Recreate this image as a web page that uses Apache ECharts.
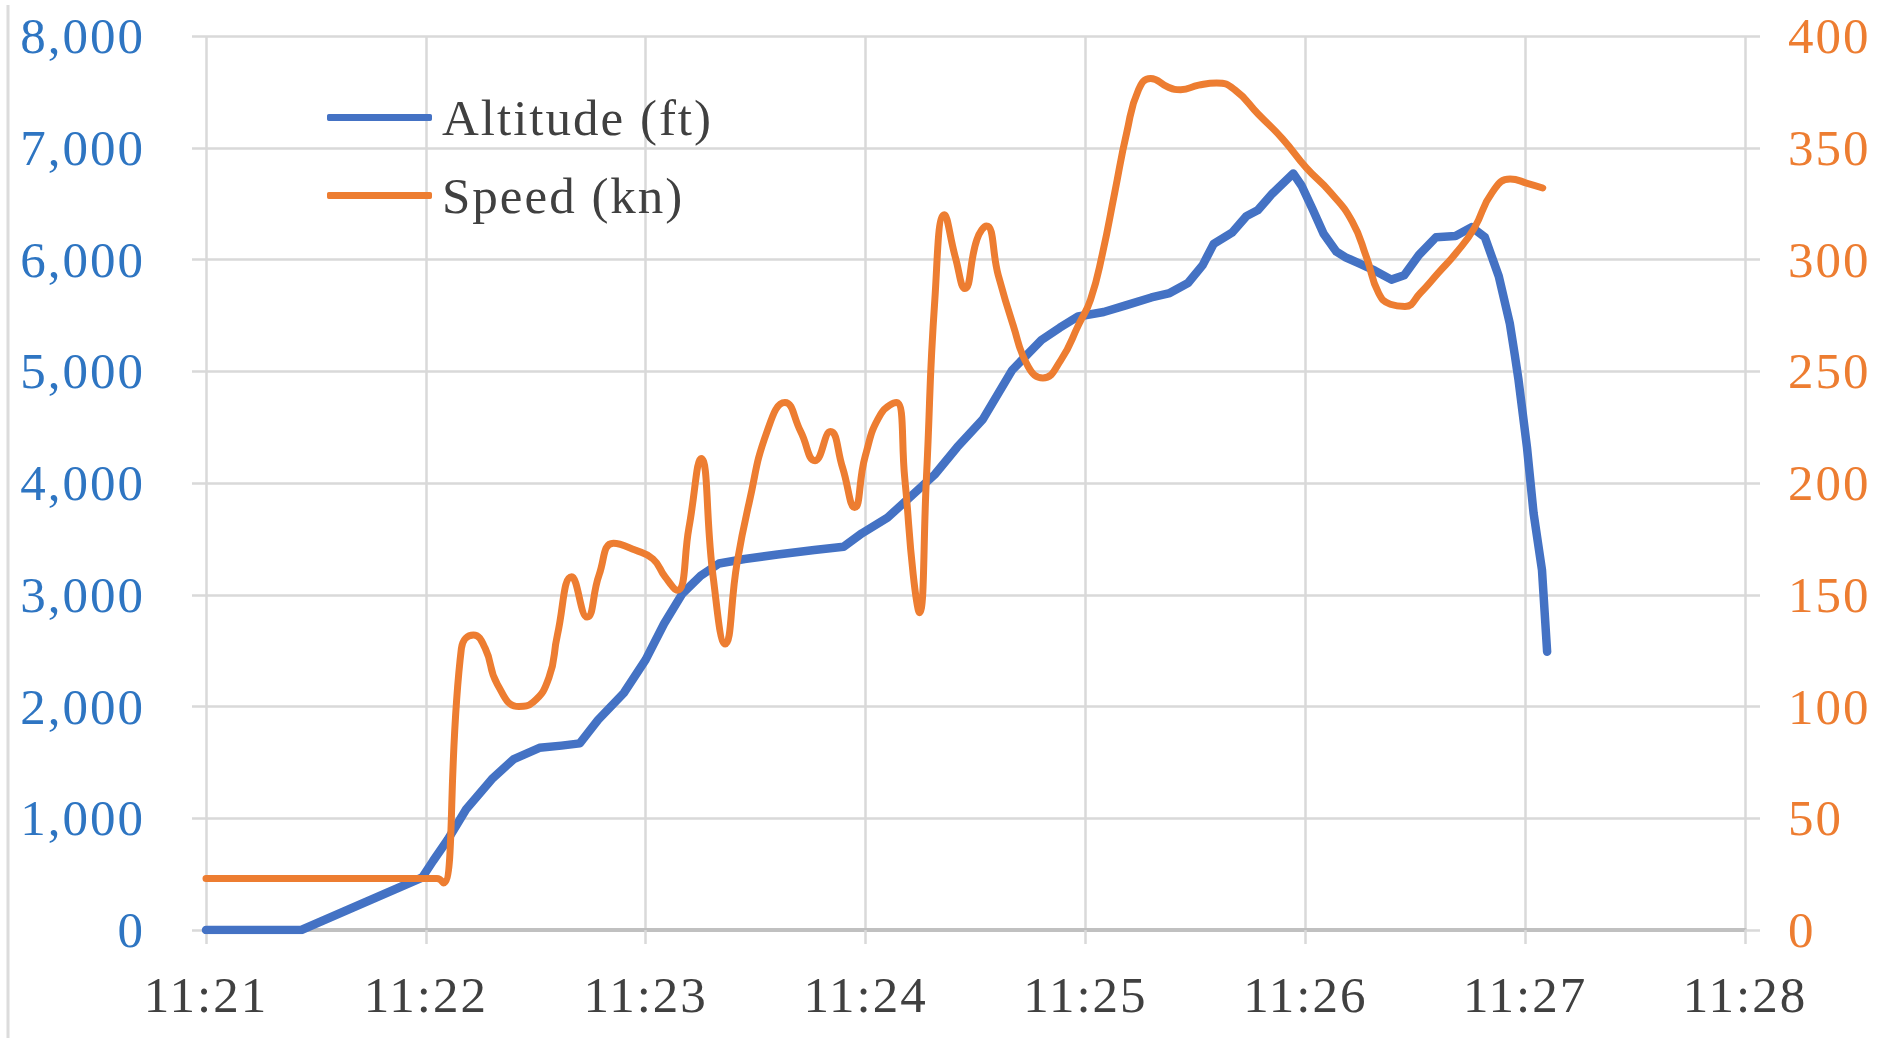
<!DOCTYPE html>
<html>
<head>
<meta charset="utf-8">
<script src="https://cdn.jsdelivr.net/npm/echarts@6/dist/echarts.min.js"></script>
<style>
  html, body { margin: 0; padding: 0; background: #ffffff; }
  #main { width: 1879px; height: 1038px; }
  #main svg text { letter-spacing: 2px; }
</style>
</head>
<body>
<div id="main"></div>
<script>
// Time axis in seconds after 11:21:00
const xTickLabels = ['11:21', '11:22', '11:23', '11:24', '11:25', '11:26', '11:27', '11:28'];
const leftTickLabels = ['0', '1,000', '2,000', '3,000', '4,000', '5,000', '6,000', '7,000', '8,000'];
const rightTickLabels = ['0', '50', '100', '150', '200', '250', '300', '350', '400'];

// Altitude (ft)
const altTime = [0, 26, 59, 62, 66, 71, 78, 84, 91, 97, 102, 107, 114, 120, 125, 130, 135, 140, 147, 156,
  166, 174, 179, 186, 192, 199, 205, 212, 220, 228, 233, 238, 245, 251, 258, 263, 268, 272, 275, 280,
  284, 287, 291, 296.7, 299, 302, 305, 308.5, 311, 315, 319, 323.5, 327, 331, 335.7, 341, 345.4, 349,
  352.8, 355.8, 357.2, 358.2, 360.5, 362.3, 364.6, 366];
const altValue = [0, 0, 470, 620, 810, 1080, 1350, 1530, 1630, 1650, 1670, 1880, 2120, 2420, 2740, 3010, 3170, 3280, 3320, 3360,
  3400, 3430, 3550, 3690, 3870, 4080, 4320, 4570, 5010, 5280, 5390, 5490, 5530, 5590, 5660, 5700, 5790, 5950, 6140, 6240,
  6390, 6440, 6590, 6770, 6660, 6450, 6230, 6070, 6020, 5960, 5900, 5820, 5860, 6040, 6200, 6210, 6290, 6200,
  5850, 5430, 5140, 4920, 4320, 3730, 3220, 2490];

// Speed (kn)
const spdTime = [0, 63, 64.8, 69.7, 73, 76.2, 79.5, 85.4, 89.3, 93.6, 95.9, 99.8, 104, 107.3, 111.2, 117.1, 122, 125.3, 128.6,
  131.8, 135.1, 138.4, 141.7, 144.9, 148.2, 153.1, 158, 162.3, 166.2, 170.4, 173.7, 177, 179.9, 184.2, 188.4, 190.7, 193,
  194.7, 196.6, 198.9, 201.5, 204.5, 207.1, 210.4, 213, 216.2, 220.2, 224.4, 228.4, 233.3, 238.2, 241.4, 244.7, 248, 251.3,
  254.5, 257.8, 262.7, 266, 270.9, 275.8, 280.7, 287.2, 293.8, 300.3, 306.9, 312.8, 316.7, 320, 323.2, 327.2, 331.4, 336.3,
  341.2, 346.1, 351, 355.9, 360.8, 364.8];
const spdValue = [23, 23, 21, 126, 132, 126, 110, 100, 102, 113, 132, 158, 140, 159, 173, 170, 166, 158, 152,
  180, 211, 158, 128, 164, 191, 223, 236, 223, 210, 223, 207, 189, 212, 231, 236, 202, 159,
  142, 202, 282, 320, 301, 287, 309, 315, 293, 271, 252, 247, 255, 271, 282, 303, 330, 357,
  376, 381, 377, 376, 378, 379, 376, 365, 354, 341, 330, 317, 301, 285, 280, 279, 285, 294,
  303, 314, 330, 336, 334, 332];

const altData = altTime.map((t, i) => [t, altValue[i]]);
const spdData = spdTime.map((t, i) => [t, spdValue[i]]);

const FONT = 'Liberation Serif';
const GRID_COLOR = '#d9d9d9';
const TEXT_COLOR = '#404040';

const chart = echarts.init(document.getElementById('main'), null, { renderer: 'svg' });
chart.setOption({
  animation: false,
  backgroundColor: '#ffffff',
  textStyle: { fontFamily: FONT },
  grid: { left: 206, right: 134, top: 36, bottom: 108 },
  legend: {
    orient: 'vertical',
    left: 322,
    top: 87,
    itemWidth: 105,
    itemHeight: 7,
    itemGap: 27,
    icon: 'roundRect',
    textStyle: { fontSize: 51, color: TEXT_COLOR, fontFamily: FONT, padding: [0, 0, 0, 5] },
    data: ['Altitude (ft)', 'Speed (kn)']
  },
  graphic: [{
    type: 'line',
    shape: { x1: 8, y1: 5, x2: 8, y2: 1038 },
    style: { stroke: '#dcdcdc', lineWidth: 3 },
    silent: true
  }],
  xAxis: {
    type: 'value',
    min: 0,
    max: 420,
    interval: 60,
    axisLine: { show: true, onZero: false, lineStyle: { color: '#c0c0c0', width: 4 } },
    axisTick: { show: true, length: 14, lineStyle: { color: GRID_COLOR, width: 2.5 } },
    splitLine: { show: true, lineStyle: { color: GRID_COLOR, width: 2.5 } },
    axisLabel: {
      margin: 39, fontSize: 51, color: TEXT_COLOR, fontFamily: FONT,
      formatter: v => xTickLabels[Math.round(v / 60)]
    }
  },
  yAxis: [{
    type: 'value',
    position: 'left',
    min: 0,
    max: 8000,
    interval: 1000,
    axisLine: { show: false },
    axisTick: { show: true, length: 14, lineStyle: { color: GRID_COLOR, width: 2.5 } },
    splitLine: { show: true, lineStyle: { color: GRID_COLOR, width: 2.5 } },
    axisLabel: {
      margin: 61, fontSize: 51, color: '#2E75C2', fontFamily: FONT,
      formatter: v => leftTickLabels[Math.round(v / 1000)]
    }
  }, {
    type: 'value',
    position: 'right',
    min: 0,
    max: 400,
    interval: 50,
    axisLine: { show: false },
    axisTick: { show: true, length: 15, lineStyle: { color: GRID_COLOR, width: 2.5 } },
    splitLine: { show: false },
    axisLabel: {
      margin: 43, fontSize: 51, color: '#ED7D31', fontFamily: FONT,
      formatter: v => rightTickLabels[Math.round(v / 50)]
    }
  }],
  series: [{
    name: 'Altitude (ft)',
    type: 'line',
    yAxisIndex: 0,
    data: altData,
    symbol: 'none',
    lineStyle: { color: '#4472C4', width: 8.5, join: 'round', cap: 'round' },
    itemStyle: { color: '#4472C4' }
  }, {
    name: 'Speed (kn)',
    type: 'line',
    yAxisIndex: 1,
    data: spdData,
    smooth: 0.5,
    symbol: 'none',
    lineStyle: { color: '#ED7D31', width: 7, join: 'round', cap: 'round' },
    itemStyle: { color: '#ED7D31' }
  }]
});
</script>
</body>
</html>
